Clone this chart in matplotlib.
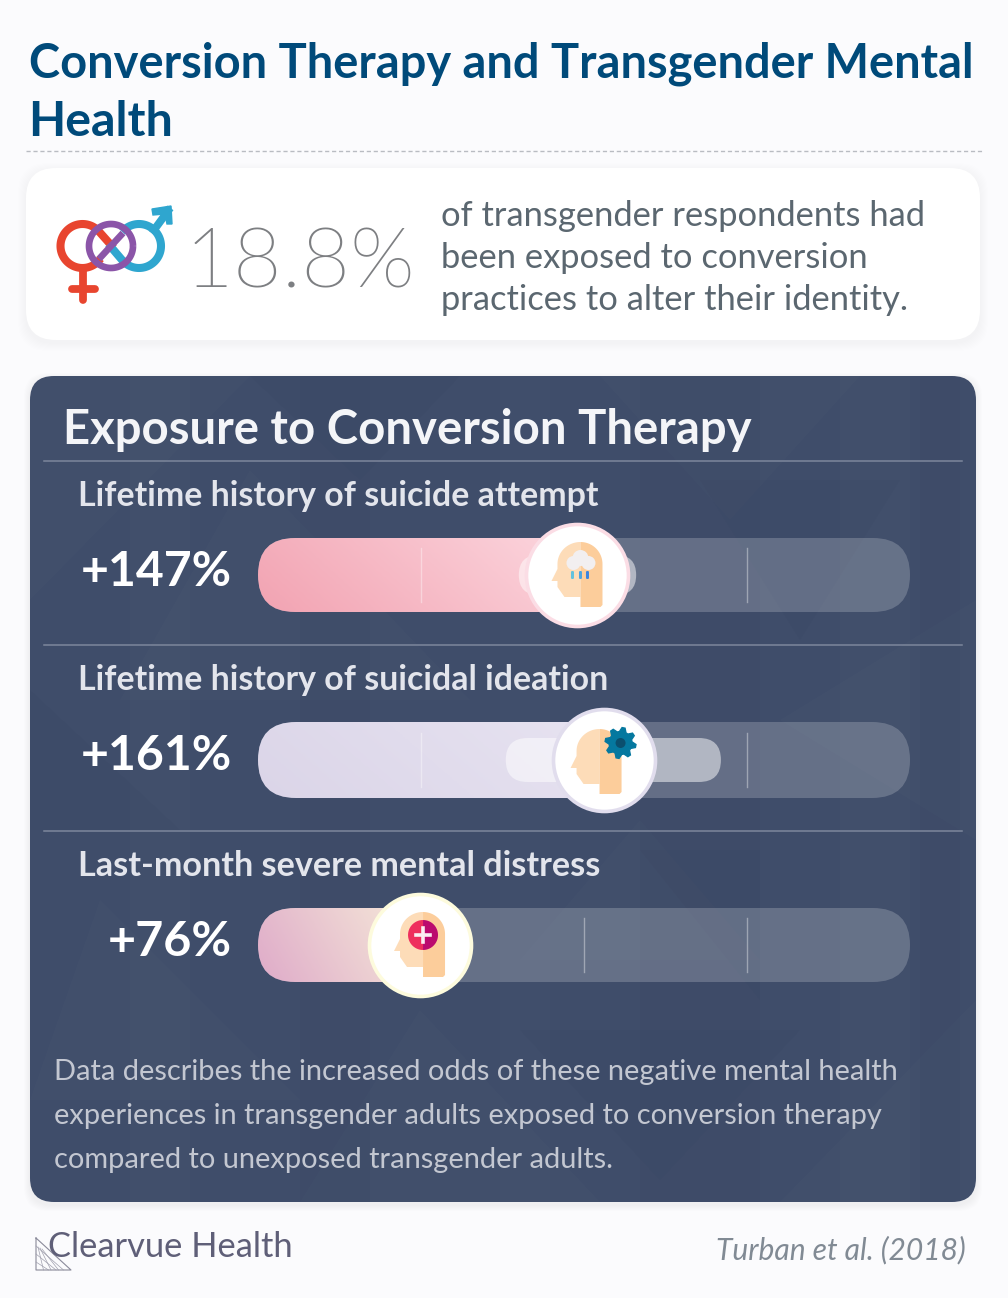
import numpy as np
import matplotlib
matplotlib.use("Agg")
import matplotlib.pyplot as plt
from matplotlib import font_manager
from matplotlib.colors import LinearSegmentedColormap
from matplotlib.font_manager import FontProperties
from matplotlib.patches import FancyBboxPatch, Polygon, Circle, Rectangle
from matplotlib.transforms import Affine2D

W, H = 1008, 1298

# data
categories = ["Lifetime history of suicide attempt",
              "Lifetime history of suicidal ideation",
              "Last-month severe mental distress"]
pct_labels = ["+147%", "+161%", "+76%"]
bar_values = [98, 106, 49.7]   # where the fill ends on the 0-200 track
range_low = [80, 76, None]     # inner pale pill
range_high = [116, 142, None]
tick_values = [50, 100, 150]
axis_max = 200
headline_value = "18.8%"

# colours per row
fill_left = ["#f2a3b2", "#dbd5e8", "#dfabc9"]
fill_right = ["#fcd6de", "#e7e3f1", "#f6ead9"]
ring_colors = ["#fbdde5", "#e1dded", "#fdfbdd"]

PAGE = "#fbfbfd"
NAVY = "#3f4d6a"

plt.rcParams["font.family"] = ["Lato", "DejaVu Sans"]

# the plain weight="light" lookup lands on the hairline cut, so look for the file
light_files = [f.fname for f in font_manager.fontManager.ttflist
               if "lato" in f.fname.lower() and "light" in f.fname.lower()
               and "italic" not in f.fname.lower() and "hairline" not in f.fname.lower()]
if light_files:
    LIGHT_FONT = FontProperties(fname=light_files[0])
else:
    LIGHT_FONT = FontProperties(family="Lato")

fig = plt.figure(figsize=(W / 100, H / 100), dpi=100, facecolor=PAGE)
ax = fig.add_axes([0, 0, 1, 1])
ax.set_xlim(0, W)
ax.set_ylim(H, 0)
ax.axis("off")


def rounded(x0, y0, x1, y1, r, **kw):
    p = FancyBboxPatch((x0, y0), x1 - x0, y1 - y0,
                       boxstyle=f"round,pad=0,rounding_size={r}", **kw)
    ax.add_patch(p)
    return p


def fit_text(x, y, s, width, size, **kw):
    # no letter spacing in matplotlib, so size the text to the reference width
    t = ax.text(x, y, s, va="baseline", **kw)
    t.set_fontsize(size)
    w = t.get_window_extent(fig.canvas.get_renderer()).width
    t.set_fontsize(size * width / w)
    return t


# top title
fit_text(29, 78, "Conversion Therapy and Transgender Mental", 944, 36, color="#004a7a", weight="bold")
fit_text(28, 136, "Health", 145, 36, color="#004a7a", weight="bold")
ax.plot([26, 982], [151, 151], color="#b9bcc2", lw=1, ls=(0, (3, 2)))

# stat card with soft shadow
for i in range(8, 0, -1):
    rounded(26 - i, 168 - i + 3, 980 + i, 340 + i + 3, 30, fc="#1c2440", ec="none", alpha=0.004)
rounded(26, 168, 980, 340, 30, fc="white", ec="none")


# gender icon
def ring(cx, cy, r, t0, t1, color, lw, z=3):
    a = np.linspace(np.radians(t0), np.radians(t1), 80)
    ax.plot(cx + r * np.cos(a), cy - r * np.sin(a), color=color, lw=lw, zorder=z, solid_capstyle="butt")


RED, PURPLE, BLUE = "#e8452f", "#8b55a8", "#2fa6cf"
ring(82.5, 246, 22, 40, 325, RED, 5.8)
ax.plot([99, 111], [231.5, 245], color=RED, lw=5.8, zorder=3)
ax.plot([83, 83], [270, 300], color=RED, lw=5.6, zorder=3, solid_capstyle="round")
ax.plot([72, 95], [288.5, 288.5], color=RED, lw=5.6, zorder=3, solid_capstyle="round")
ring(139, 246, 22, 220, 500, BLUE, 5.8)
ax.plot([122.5, 111], [260.5, 247], color=BLUE, lw=5.8, zorder=3)
ax.plot([154, 168], [230, 211], color=BLUE, lw=5.6, zorder=3)
ax.add_patch(Polygon([[152, 209], [171, 206], [172, 224], [167, 224], [165, 214], [153, 215]],
                     fc=BLUE, ec=BLUE, lw=1, zorder=3))
ring(111, 246, 22, 0, 360, PURPLE, 4.8, z=4)
ax.plot([99, 123], [259, 233], color=PURPLE, lw=4.8, zorder=4, solid_capstyle="butt")

fit_text(185, 287, headline_value, 231, 63, color="#7d7f82", fontproperties=LIGHT_FONT)
stat_lines = ["of transgender respondents had", "been exposed to conversion", "practices to alter their identity."]
for yy, line in zip([226, 268, 310], stat_lines):
    ax.text(441, yy, line, fontsize=24.8, color="#5b6770", va="baseline")

# dark panel
panel = rounded(30, 376, 976, 1202, 24, fc=NAVY, ec="none", zorder=1)
for i in range(6, 0, -1):
    rounded(30 - i, 376 - i + 3, 976 + i, 1202 + i + 3, 24, fc="#1c2440", ec="none", alpha=0.006, zorder=0.5)

# faint geometric texture on the panel
light_tri = [[(30, 376), (250, 376), (30, 600)], [(250, 470), (470, 700), (120, 700)],
             [(600, 376), (860, 376), (730, 520)], [(640, 820), (760, 960), (520, 960)],
             [(976, 600), (976, 840), (780, 720)], [(100, 900), (300, 1100), (30, 1100)],
             [(420, 1010), (600, 1202), (300, 1202)], [(976, 1000), (976, 1202), (780, 1202)]]
dark_tri = [[(250, 376), (460, 376), (360, 480)], [(700, 480), (900, 480), (800, 640)],
            [(30, 690), (180, 830), (30, 830)], [(640, 850), (760, 850), (760, 1000)],
            [(520, 1030), (800, 1030), (660, 1180)]]
for pts in light_tri:
    p = Polygon(pts, fc="white", ec="none", alpha=0.012, zorder=1.1)
    ax.add_patch(p)
    p.set_clip_path(panel)
for pts in dark_tri:
    p = Polygon(pts, fc="#27324f", ec="none", alpha=0.06, zorder=1.1)
    ax.add_patch(p)
    p.set_clip_path(panel)
# vertical bands
for bx, bw, col, al in [(130, 60, "white", 0.01), (300, 70, "#27324f", 0.04), (500, 50, "white", 0.008),
                        (640, 120, "#27324f", 0.04), (840, 70, "white", 0.01), (920, 40, "#27324f", 0.04)]:
    p = Rectangle((bx, 376), bw, 826, fc=col, ec="none", alpha=al, zorder=1.1)
    ax.add_patch(p)
    p.set_clip_path(panel)

fit_text(63, 444, "Exposure to Conversion Therapy", 688, 36, color="#f4f5f8", weight="bold", zorder=3)
for yy in [461, 645, 831]:
    ax.plot([44, 962], [yy, yy], color="#7d879c", lw=1.1, zorder=2)

# rows
label_y = [506, 690, 876]
pct_y = [586, 770, 956]
label_w = [520, 530, 521]
pct_x = [232, 232, 232]
pct_w = [151, 151, 124]
row_cy = [575, 760, 945]
row_half = [37, 38, 37]
x0_px, x1_px = 258, 910
px_per_unit = (x1_px - x0_px) / axis_max


def head_icon(rax, value, dx, dy, z=8):
    # icon is drawn in px relative to the marker centre
    tr = Affine2D().translate(dx, dy).scale(1 / px_per_unit, 1).translate(value, 0) + rax.transData
    a = np.radians(np.linspace(180, 90, 24))
    dome_x, dome_y = 3 + 23 * np.cos(a), -11 + 22 * np.sin(-a)
    left = list(zip(dome_x, dome_y)) + [(3, 22), (-13, 22), (-20, 12), (-20, 6), (-26, 6), (-20, -6)]
    a2 = np.radians(np.linspace(90, 0, 24))
    right = [(3, -33)] + list(zip(3 + 22 * np.cos(a2), -11 - 22 * np.sin(a2))) + [(25, 30), (23, 32), (3, 32)]
    rax.add_patch(Polygon(left, fc="#fddcb8", ec="none", transform=tr, zorder=z, clip_on=False))
    rax.add_patch(Polygon(right, fc="#fccd9b", ec="none", transform=tr, zorder=z, clip_on=False))
    return tr


for i, name in enumerate(categories):
    fit_text(78, label_y[i], name, label_w[i], 26, color="#e3e5ec", weight="bold", zorder=3)
    t_ = fit_text(0, pct_y[i], pct_labels[i], pct_w[i], 36, color="white", weight="bold", zorder=3)
    t_.set_x(pct_x[i])
    t_.set_ha("right")

    h = row_half[i]
    rax = fig.add_axes([x0_px / W, 1 - (row_cy[i] + h) / H, (x1_px - x0_px) / W, 2 * h / H])
    rax.set_xlim(0, axis_max)
    rax.set_ylim(h, -h)
    rax.axis("off")
    rax.patch.set_alpha(0)

    r_units = h / px_per_unit
    track = FancyBboxPatch((0, -h), axis_max, 2 * h, boxstyle=f"round,pad=0,rounding_size={r_units}",
                           mutation_aspect=px_per_unit, fc="white", ec="none", alpha=0.2, zorder=1)
    rax.add_patch(track)

    # diagonal gradient for the filled part
    cmap = LinearSegmentedColormap.from_list("fill", [fill_left[i], fill_right[i]])
    gx, gy = np.meshgrid(np.linspace(0, 1, 200), np.linspace(0, 1, 40))
    im = rax.imshow(gx * 0.8 + (1 - gy) * 0.2, cmap=cmap, extent=[0, bar_values[i], h, -h],
                    aspect="auto", zorder=2, vmin=0, vmax=1)
    clip = FancyBboxPatch((0, -h), axis_max, 2 * h, boxstyle=f"round,pad=0,rounding_size={r_units}",
                          mutation_aspect=px_per_unit, transform=rax.transData, fc="none", ec="none")
    rax.add_patch(clip)
    im.set_clip_path(clip)
    rax.set_xlim(0, axis_max)
    rax.set_ylim(h, -h)

    if range_low[i] is not None:
        pill_half = 20 if i == 0 else 22
        rax.add_patch(FancyBboxPatch((range_low[i], -pill_half), range_high[i] - range_low[i], 2 * pill_half,
                                     boxstyle=f"round,pad=0,rounding_size={pill_half / px_per_unit}",
                                     mutation_aspect=px_per_unit, fc="white", ec="none", alpha=0.5, zorder=3))
    for tv in tick_values:
        rax.plot([tv, tv], [-27, 27], color="white", lw=1, alpha=0.38, zorder=4)

    # white disc at the end of the fill
    rax.scatter([bar_values[i]], [0], s=(102 * 0.72) ** 2, fc="white", ec=ring_colors[i], lw=2.6,
                zorder=7, clip_on=False)

    if i == 0:
        tr = head_icon(rax, bar_values[i], 0, 0)
        for cx, cy, r in [(-4, -12, 7), (3, -17, 8), (11, -12, 7)]:
            rax.add_patch(Circle((cx, cy), r, fc="#f2eff0", ec="none", transform=tr, zorder=9, clip_on=False))
        for cx, col in zip([-5, 3, 10], ["#63c2dd", "#4da4e0", "#3b84e0"]):
            rax.add_patch(FancyBboxPatch((cx - 1.5, -4), 3, 8, boxstyle="round,pad=0,rounding_size=1.2",
                                         fc=col, ec="none", transform=tr, zorder=9, clip_on=False))
    elif i == 1:
        tr = head_icon(rax, bar_values[i], -7, 2)
        n = 32
        ang = np.linspace(0, 2 * np.pi, n, endpoint=False) + np.radians(5.6)
        rad = np.where(np.arange(n) % 4 < 2, 15.5, 11.5)
        gear = np.c_[24 + rad * np.cos(ang), -19 + rad * np.sin(ang)]
        rax.add_patch(Polygon(gear, fc="#05789f", ec="#05789f", lw=1, transform=tr, zorder=9, clip_on=False))
        rax.add_patch(Circle((24, -19), 5, fc="#0b4f6e", ec="none", transform=tr, zorder=10, clip_on=False))
    else:
        tr = head_icon(rax, bar_values[i], 0, 0)
        a = np.radians(np.linspace(90, 270, 30))
        rax.add_patch(Polygon(np.c_[3 + 15 * np.cos(a), -10 + 15 * np.sin(a)], fc="#ee2f5d", ec="none",
                              transform=tr, zorder=9, clip_on=False))
        a = np.radians(np.linspace(-90, 90, 30))
        rax.add_patch(Polygon(np.c_[3 + 15 * np.cos(a), -10 + 15 * np.sin(a)], fc="#bb0a6e", ec="none",
                              transform=tr, zorder=9, clip_on=False))
        for seg in ([(-4, -10), (10, -10)], [(3, -17), (3, -3)]):
            xs, ys = zip(*seg)
            rax.plot(xs, ys, color="#fbeef2", lw=2.6, transform=tr, zorder=10, clip_on=False)

# note at the bottom of the panel
note_lines = ["Data describes the increased odds of these negative mental health",
              "experiences in transgender adults exposed to conversion therapy",
              "compared to unexposed transgender adults."]
for yy, line in zip([1080, 1124, 1168], note_lines):
    ax.text(54, yy, line, fontsize=20.85, color="#c3c7d1", va="baseline", zorder=3)

# logo and source
fit_text(48, 1257, "Clearvue Health", 245, 25.5, color="#5f5f78")
ax.plot([36, 36, 71, 36], [1238, 1270, 1270, 1238], color="#8a8a9a", lw=0.8)
for k in np.array([0.25, 0.5, 0.75]):
    ax.plot([36, 71 - 30 * k], [1238 + 32 * k, 1270], color="#a0a0ae", lw=0.5)
    ax.plot([36 + 8 * k, 36 + 30 * k], [1246 + 4 * k, 1270], color="#a0a0ae", lw=0.5)
ax.text(966, 1259, "Turban et al. (2018)", fontsize=21.6, color="#818a94", style="italic", ha="right", va="baseline")

fig.savefig("out.png", dpi=100, facecolor=PAGE)
